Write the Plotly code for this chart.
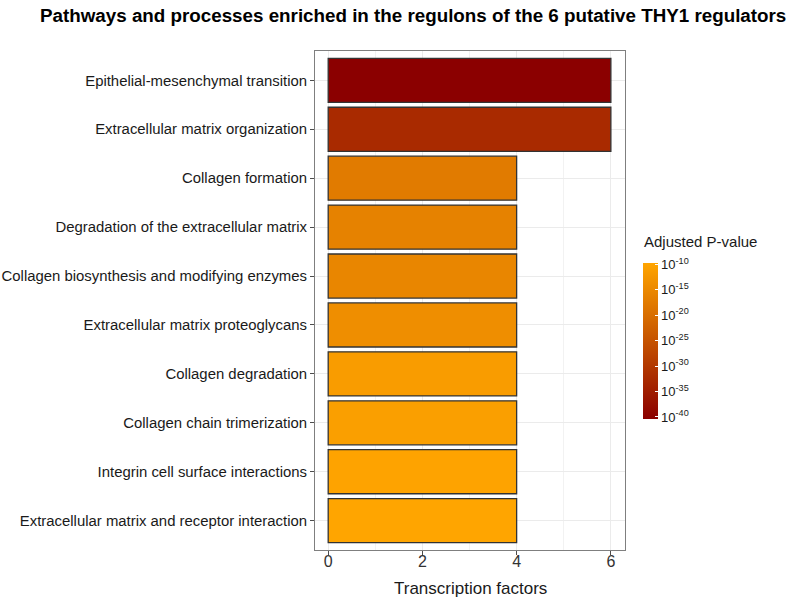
import plotly.graph_objects as go

categories = [
    "Epithelial-mesenchymal transition",
    "Extracellular matrix organization",
    "Collagen formation",
    "Degradation of the extracellular matrix",
    "Collagen biosynthesis and modifying enzymes",
    "Extracellular matrix proteoglycans",
    "Collagen degradation",
    "Collagen chain trimerization",
    "Integrin cell surface interactions",
    "Extracellular matrix and receptor interaction",
]
tf_counts = [6, 6, 4, 4, 4, 4, 4, 4, 4, 4]
log10_padj = [-40.4, -32.5, -17.6, -16.2, -15.4, -13.9, -11.3, -10.9, -10.0, -9.7]

colorbar_ticks = [-10, -15, -20, -25, -30, -35, -40]
colorbar_ticktext = ["10<sup>%d</sup>" % t for t in colorbar_ticks]

font_fam = "Liberation Sans, Arial, sans-serif"

L, R, T, B = 315, 165, 51, 52
W, H = 790, 602
PH = H - T - B
PW = W - L - R


def py(px):
    return (H - B - px) / PH


def pxx(px):
    return (px - L) / PW


fig = go.Figure(
    go.Bar(
        x=tf_counts,
        y=categories,
        orientation="h",
        width=0.9,
        marker=dict(
            color=log10_padj,
            colorscale=[[0, "#8B0000"], [1, "#FFA500"]],
            cmin=min(log10_padj),
            cmax=max(log10_padj),
            line=dict(color="#333333", width=1.3),
            colorbar=dict(
                tickvals=colorbar_ticks,
                ticktext=colorbar_ticktext,
                ticks="inside",
                ticklen=3,
                tickcolor="white",
                tickfont=dict(size=13, color="#1a1a1a", family=font_fam),
                thickness=15,
                lenmode="pixels",
                len=156,
                x=pxx(643),
                xanchor="left",
                xpad=0,
                ypad=0,
                y=py(263),
                yanchor="top",
                outlinewidth=0,
            ),
        ),
        showlegend=False,
    )
)

fig.add_annotation(
    text="Adjusted P-value",
    xref="paper", yref="paper",
    x=pxx(642), y=py(241),
    xanchor="left", yanchor="middle",
    showarrow=False,
    font=dict(size=15, color="#1a1a1a", family=font_fam),
)

fig.add_annotation(
    text="Transcription factors",
    xref="paper", yref="paper",
    x=0.5, y=py(588),
    xanchor="center", yanchor="middle",
    showarrow=False,
    font=dict(size=17, color="#1a1a1a", family=font_fam),
)

fig.update_layout(
    width=W,
    height=H,
    margin=dict(l=L, r=R, t=T, b=B),
    paper_bgcolor="white",
    plot_bgcolor="white",
    font=dict(family=font_fam, color="#1a1a1a"),
    title=dict(
        text="<b>Pathways and processes enriched in the regulons of the 6 putative THY1 regulators</b>",
        x=0.523,
        xanchor="center",
        y=0.975,
        yanchor="middle",
        font=dict(size=18.8, color="black", family=font_fam),
    ),
    xaxis=dict(
        range=[-0.28, 6.3],
        tickvals=[0, 2, 4, 6],
        tickfont=dict(size=16, color="#333333"),
        ticks="outside",
        ticklen=4,
        tickcolor="#4d4d4d",
        ticklabelstandoff=-7,
        showgrid=True,
        gridcolor="#ebebeb",
        gridwidth=1,
        minor=dict(tickvals=[1, 3, 5], showgrid=True, gridcolor="#f2f2f2", gridwidth=0.8),
        zeroline=False,
        showline=True,
        linecolor="#7f7f7f",
        linewidth=1,
        mirror=True,
        automargin=False,
    ),
    yaxis=dict(
        categoryorder="array",
        categoryarray=categories[::-1],
        range=[-0.6, 9.6],
        tickfont=dict(size=14.9, color="#1a1a1a"),
        ticks="outside",
        ticklen=4,
        tickcolor="#4d4d4d",
        showgrid=True,
        gridcolor="#ebebeb",
        zeroline=False,
        showline=True,
        linecolor="#7f7f7f",
        linewidth=1,
        mirror=True,
        automargin=False,
    ),
)

fig.write_html("out.html")
